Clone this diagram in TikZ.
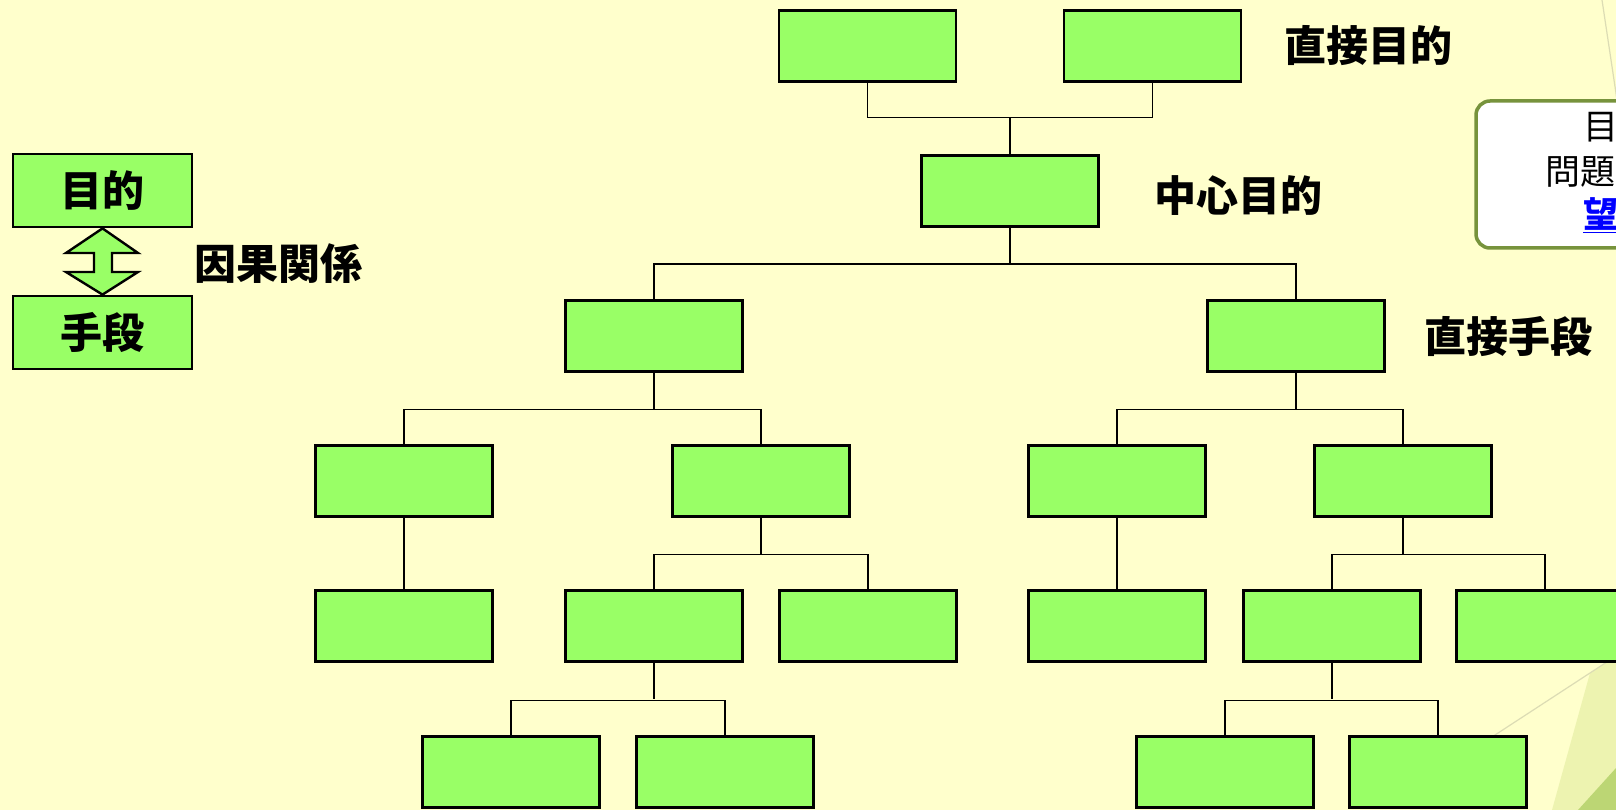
\documentclass[tikz,border=0pt]{standalone}
\usepackage{fontspec}
\setmainfont{Noto Sans CJK JP}
\usetikzlibrary{calc}
\definecolor{bg}{RGB}{255,255,204}
\definecolor{boxgreen}{RGB}{153,255,102}
\definecolor{olive}{RGB}{119,147,60}
\definecolor{lightfacet}{RGB}{237,243,176}
\definecolor{darkfacet}{RGB}{188,214,116}
\definecolor{thinline}{RGB}{220,220,180}
\tikzset{
  gbox/.style={draw=black, fill=boxgreen, line width=2.8pt, minimum width=177pt, minimum height=71pt, inner sep=0pt},
  legbox/.style={draw=black, fill=boxgreen, line width=2.8pt, minimum width=179pt, minimum height=73pt, inner sep=0pt, font=\fontsize{42}{48}\selectfont\bfseries},
  conn/.style={draw=black, line width=1.2pt},
  lab/.style={anchor=west, inner sep=0pt, font=\fontsize{42}{48}\selectfont\bfseries},
  notetxt/.style={anchor=west, inner sep=0pt, font=\fontsize{35}{42}\selectfont}
}
\begin{document}
\begin{tikzpicture}[x=1pt,y=-1pt]
\useasboundingbox (0,0) rectangle (1616,810);
\clip (0,0) rectangle (1616,810);
\fill[bg] (0,0) rectangle (1616,810);
% background facets
\fill[lightfacet] (1552,810) -- (1590,673) -- (1616,656) -- (1616,810) -- cycle;
\fill[darkfacet] (1578,810) -- (1616,768) -- (1616,810) -- cycle;
\draw[thinline, line width=1.2pt] (1400,797) -- (1616,656);
\draw[thinline, line width=1.2pt] (1602,0) -- (1617,100);
% note box
\draw[olive, fill=white, line width=3.5pt, rounded corners=14pt] (1476,101) rectangle (1720,248);
\node[notetxt] (n1) at (1583,127) {目};
\node[notetxt] (n2) at (1545,172) {問題};
\node[notetxt, text=blue, font=\fontsize{35}{42}\selectfont\bfseries] (n3) at (1583,215) {\underline{望}};
% legend
\node[legbox] (mok) at (102.5,190.5) {目的};
\node[legbox] (shu) at (102.5,332.5) {手段};
\draw[black, fill=boxgreen, line width=2.4pt, line join=miter]
  (mok.south) -- (138,253) -- (112,253) -- (112,272) -- (138,272) -- (shu.north)
  -- (66,272) -- (94,272) -- (94,253) -- (66,253) -- cycle;
\node[lab] (inga) at (194,264) {因果関係};
% tree nodes
\node[gbox] (A1) at (867.5,46) {};
\node[gbox] (A2) at (1152.5,46) {};
\node[gbox] (B) at (1010,191) {};
\node[gbox] (C1) at (654,336) {};
\node[gbox] (C2) at (1296,336) {};
\node[gbox] (D1) at (404,481) {};
\node[gbox] (D2) at (761,481) {};
\node[gbox] (D3) at (1117,481) {};
\node[gbox] (D4) at (1403,481) {};
\node[gbox] (E1) at (404,626) {};
\node[gbox] (E2) at (654,626) {};
\node[gbox] (E3) at (868,626) {};
\node[gbox] (E4) at (1117,626) {};
\node[gbox] (E5) at (1332,626) {};
\node[gbox] (E6) at (1545,626) {};
\node[gbox] (F1) at (511,772) {};
\node[gbox] (F2) at (725,772) {};
\node[gbox] (F3) at (1225,772) {};
\node[gbox] (F4) at (1438,772) {};
% connectors
\draw[conn] (A1.south) -- ++(0,35) -| (A2.south);
\draw[conn] (B.north) -- ++(0,-36);
\draw[conn] (B.south) -- ++(0,36);
\draw[conn] (C1.north) -- ++(0,-35) -| (C2.north);
\draw[conn] (C1.south) -- ++(0,36);
\draw[conn] (D1.north) -- ++(0,-35) -| (D2.north);
\draw[conn] (C2.south) -- ++(0,36);
\draw[conn] (D3.north) -- ++(0,-35) -| (D4.north);
\draw[conn] (D1.south) -- (E1.north);
\draw[conn] (D2.south) -- ++(0,36);
\draw[conn] (E2.north) -- ++(0,-35) -| (E3.north);
\draw[conn] (D3.south) -- (E4.north);
\draw[conn] (D4.south) -- ++(0,36);
\draw[conn] (E5.north) -- ++(0,-35) -| (E6.north);
\draw[conn] (E2.south) -- ++(0,36);
\draw[conn] (F1.north) -- ++(0,-35) -| (F2.north);
\draw[conn] (E5.south) -- ++(0,36);
\draw[conn] (F3.north) -- ++(0,-35) -| (F4.north);
% labels
\node[lab] (l1) at (1284,46) {直接目的};
\node[lab] (l2) at (1154,196) {中心目的};
\node[lab] (l3) at (1424,337) {直接手段};
\end{tikzpicture}
\end{document}
